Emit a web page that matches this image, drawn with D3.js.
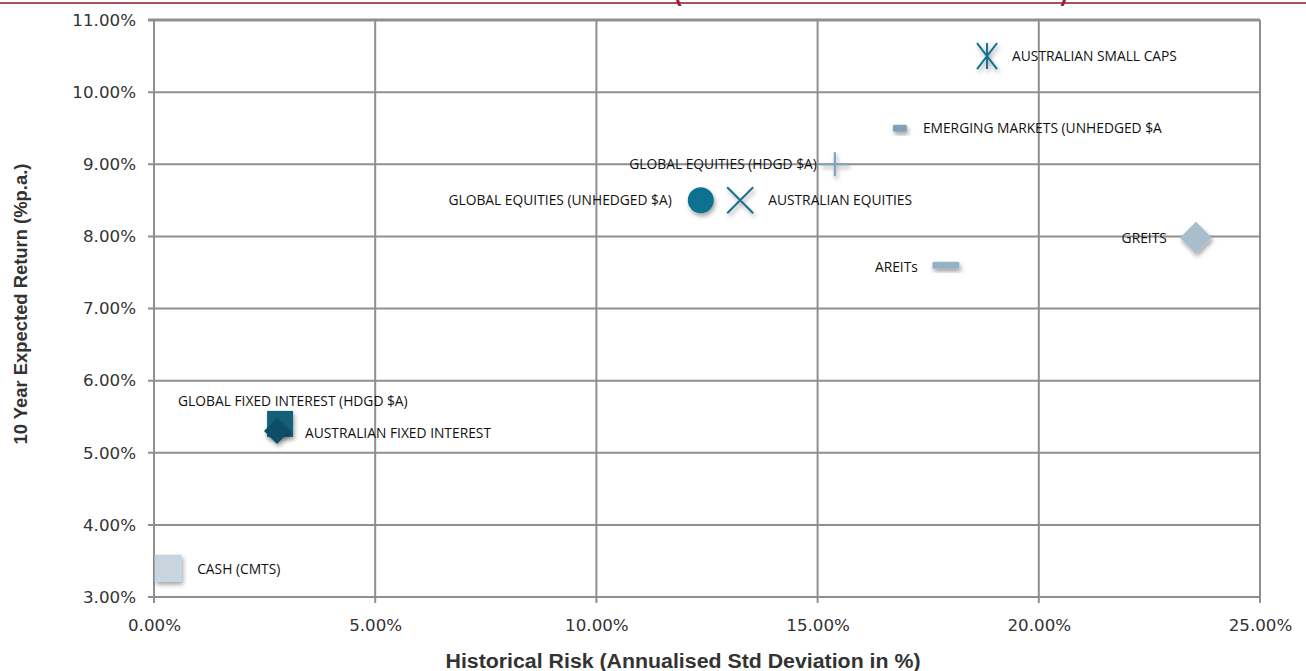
<!DOCTYPE html>
<html><head><meta charset="utf-8">
<script src="https://cdn.jsdelivr.net/npm/d3@7"></script>
<style>body{margin:0;background:#fff;}svg{display:block;}</style>
</head><body>
<svg id="chart" width="1306" height="671"></svg>
<script>
// ---- data ----
const assets = ["AUSTRALIAN SMALL CAPS","EMERGING MARKETS (UNHEDGED $A","GLOBAL EQUITIES (HDGD $A)","GLOBAL EQUITIES (UNHEDGED $A)","AUSTRALIAN EQUITIES","GREITS","AREITs","GLOBAL FIXED INTEREST (HDGD $A)","AUSTRALIAN FIXED INTEREST","CASH (CMTS)"];
const risk = [18.83, 16.86, 15.39, 12.36, 13.25, 23.55, 17.9, 2.85, 2.78, 0.32];
const expReturn = [10.5, 9.5, 9.0, 8.5, 8.5, 7.98, 7.6, 5.4, 5.3, 3.4];
const xTicks = [0, 5, 10, 15, 20, 25];
const yTicks = [3, 4, 5, 6, 7, 8, 9, 10, 11];
const xTitle = "Historical Risk (Annualised Std Deviation in %)";
const yTitle = "10 Year Expected Return (%p.a.)";
const chartTitle = "(RISK AND RETURN ASSUMPTIONS)";

// ---- styles (marker & label placement) ----
const style = {
  "AUSTRALIAN SMALL CAPS": {m:"asterisk", c:"#17728F", anchor:"start", dx:25},
  "EMERGING MARKETS (UNHEDGED $A": {m:"dash", w:14, c:"#7FA2B7", anchor:"start", dx:23},
  "GLOBAL EQUITIES (HDGD $A)": {m:"plus", c:"#7EA7BD", anchor:"end", dx:-18},
  "GLOBAL EQUITIES (UNHEDGED $A)": {m:"circle", c:"#0F7190", anchor:"end", dx:-29},
  "AUSTRALIAN EQUITIES": {m:"x", c:"#1A6E8A", anchor:"start", dx:28},
  "GREITS": {m:"diamond", r:16, c:"#A8BECD", anchor:"end", dx:-29},
  "AREITs": {m:"dash", w:27, c:"#93B2C5", anchor:"end", dx:-28, dy:2},
  "GLOBAL FIXED INTEREST (HDGD $A)": {m:"square", s:26, c:"#175F78", anchor:"start", dx:-102, dy:-23},
  "AUSTRALIAN FIXED INTEREST": {m:"diamond", r:13, c:"#0D4E65", anchor:"start", dx:28, dy:2},
  "CASH (CMTS)": {m:"square", s:27, c:"#C8D5DF", anchor:"start", dx:29, dy:1}
};

const svg = d3.select("#chart");
const W = 1306, H = 671;
const m = {left:154, right:46, top:20, bottom:74};
const x = d3.scaleLinear().domain([0,25]).range([m.left, W-m.right]);
const y = d3.scaleLinear().domain([3,11]).range([H-m.bottom, m.top]);

// shadow filter
const defs = svg.append("defs");
const f = defs.append("filter").attr("id","sh").attr("x","-50%").attr("y","-50%").attr("width","200%").attr("height","200%");
f.append("feDropShadow").attr("dx",1.5).attr("dy",3).attr("stdDeviation",2).attr("flood-color","#000").attr("flood-opacity",0.35);

// title remnant (title sits above the visible area, as in the reference; only the parentheses' tails show)
svg.append("line").attr("x1",0).attr("x2",W).attr("y1",3).attr("y2",3).attr("stroke","#8B1A2A").attr("stroke-width",1.5);
svg.append("text").attr("x",871).attr("y",0).attr("text-anchor","middle")
  .attr("font-family","Liberation Sans, Arial, sans-serif").attr("font-weight","bold").attr("font-size",30)
  .attr("fill","#A01E2E").attr("textLength",394).attr("lengthAdjust","spacingAndGlyphs").text(chartTitle);

// gridlines
const gridColor = "#8f8f8f";
svg.append("g").selectAll("line").data(xTicks).join("line")
  .attr("x1",d=>x(d)).attr("x2",d=>x(d)).attr("y1",y(11)).attr("y2",y(3)+6)
  .attr("stroke",gridColor).attr("stroke-width",2);
svg.append("g").selectAll("line").data(yTicks).join("line")
  .attr("x1",x(0)-6).attr("x2",x(25)).attr("y1",d=>y(d)).attr("y2",d=>y(d))
  .attr("stroke",gridColor).attr("stroke-width",d=>d===11?3:2);

// axes labels via d3 axes (no domain lines)
const xAxis = svg.append("g").attr("transform",`translate(0,${y(3)})`)
  .call(d3.axisBottom(x).tickValues(xTicks).tickSize(0).tickPadding(22).tickFormat(d=>d3.format(".2f")(d)+"%"));
const yAxis = svg.append("g").attr("transform",`translate(${x(0)},0)`)
  .call(d3.axisLeft(y).tickValues(yTicks).tickSize(0).tickPadding(18).tickFormat(d=>d3.format(".2f")(d)+"%"));
[xAxis,yAxis].forEach(a=>{
  a.select(".domain").remove();
  a.selectAll("text").attr("font-family","DejaVu Sans, sans-serif").attr("font-size",16.7).attr("fill","#333");
});

// axis titles
svg.append("text").attr("x",683).attr("y",668).attr("text-anchor","middle")
  .attr("font-family","Liberation Sans, Arial, sans-serif").attr("font-weight","bold").attr("font-size",19.5).attr("fill","#333")
  .attr("textLength",475).attr("lengthAdjust","spacingAndGlyphs").text(xTitle);
svg.append("text").attr("transform","translate(27,304) rotate(-90)").attr("text-anchor","middle")
  .attr("font-family","Liberation Sans, Arial, sans-serif").attr("font-weight","bold").attr("font-size",18.4).attr("fill","#333").text(yTitle);

// markers
const pts = assets.map((n,i)=>({name:n, rx:risk[i], ry:expReturn[i], s:style[n]}));
const g = svg.append("g");
pts.forEach(p=>{
  const cx = x(p.rx), cy = y(p.ry), s = p.s;
  const mg = g.append("g").attr("transform",`translate(${cx},${cy})`).attr("filter","url(#sh)");
  if (s.m==="circle") mg.append("circle").attr("r",13).attr("fill",s.c);
  else if (s.m==="square") mg.append("rect").attr("x",-s.s/2).attr("y",-s.s/2).attr("width",s.s).attr("height",s.s).attr("fill",s.c);
  else if (s.m==="diamond") mg.append("path").attr("d",`M0,${-s.r}L${s.r},0L0,${s.r}L${-s.r},0Z`).attr("fill",s.c);
  else if (s.m==="dash") mg.append("rect").attr("x",-s.w/2).attr("y",-3.5).attr("width",s.w).attr("height",7).attr("rx",1.5).attr("fill",s.c);
  else if (s.m==="plus") {
    mg.append("path").attr("d","M-14,0H14M0,-12V12").attr("stroke",s.c).attr("stroke-width",2.2);
  } else if (s.m==="x") {
    mg.append("path").attr("d","M-13,-13L13,13M-13,13L13,-13").attr("stroke",s.c).attr("stroke-width",2);
  } else if (s.m==="asterisk") {
    mg.append("path").attr("d","M0,-13V13M-10,-13L10,13M-10,13L10,-13").attr("stroke",s.c).attr("stroke-width",2);
  }
});

// labels
g.selectAll("text.lbl").data(pts).join("text").attr("class","lbl")
  .attr("x",d=>x(d.rx)+d.s.dx).attr("y",d=>y(d.ry)+(d.s.dy||0)).attr("dy","0.35em")
  .attr("text-anchor",d=>d.s.anchor)
  .attr("font-family","Open Sans, sans-serif").attr("font-size",13.8).attr("fill","#111")
  .text(d=>d.name);
</script>
</body></html>
